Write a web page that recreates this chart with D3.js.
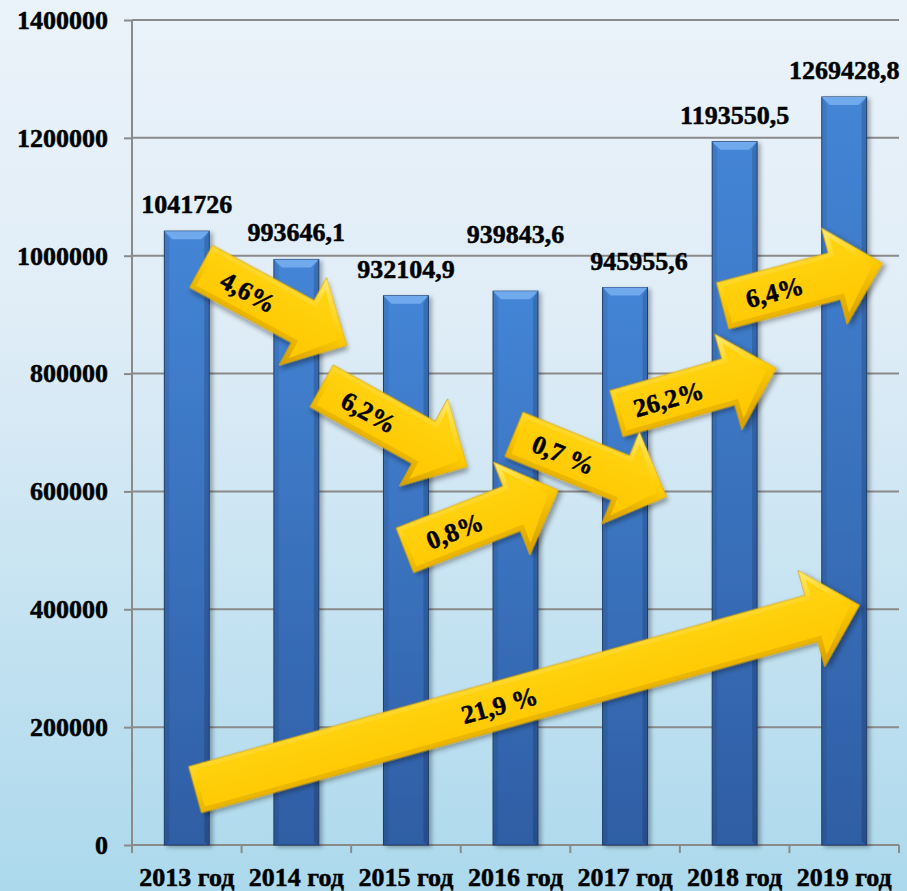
<!DOCTYPE html>
<html>
<head>
<meta charset="utf-8">
<script src="https://cdn.jsdelivr.net/npm/d3@7"></script>
<style>
  html, body { margin: 0; padding: 0; overflow: hidden; }
  svg { display: block; }
  .lbl { stroke: #000; stroke-width: 0.5px; }
</style>
</head>
<body>
<div id="chart"></div>
<script>
// chart values
var years = ["2013 год", "2014 год", "2015 год", "2016 год", "2017 год", "2018 год", "2019 год"];
var values = [1041726, 993646.1, 932104.9, 939843.6, 945955.6, 1193550.5, 1269428.8];
var valueLabels = ["1041726", "993646,1", "932104,9", "939843,6", "945955,6", "1193550,5", "1269428,8"];
var yTicks = [0, 200000, 400000, 600000, 800000, 1000000, 1200000, 1400000];

// growth arrows: label, start and end given as [bar position, value]
var arrowLabels = ["4,6%", "6,2%", "0,8%", "0,7 %", "26,2%", "6,4%", "21,9 %"];
var arrowFrom = [[0.13, 982000], [1.23, 779000], [1.99, 500000], [2.985, 697000], [3.92, 732000], [4.89, 915000], [0.075, 94000]];
var arrowTo   = [[1.46, 848000], [2.56, 642000], [3.39, 602000], [4.38, 591000], [5.38, 809000], [6.35, 987000], [6.14, 407000]];

// layout
var width = 907;
var height = 891;
var margin = {left: 132, right: 8, top: 20, bottom: 46};
var font = "'Liberation Serif', 'Times New Roman', serif";
var shaftW = 48, headW = 100, headL = 50;

// small nudges for value labels that dodge the arrows
var labelNudge = {"2016 год": [0, -30], "2017 год": [14, 0]};

var svg = d3.select("#chart").append("svg")
    .attr("width", width)
    .attr("height", height);

var defs = svg.append("defs");

// background gradient
var bg = defs.append("linearGradient").attr("id", "bg")
    .attr("x1", 0).attr("y1", 0).attr("x2", 0).attr("y2", 1);
bg.append("stop").attr("offset", "0%").attr("stop-color", "#ebf3fa");
bg.append("stop").attr("offset", "35%").attr("stop-color", "#e0edf7");
bg.append("stop").attr("offset", "100%").attr("stop-color", "#acd9ec");

// bar gradient
var barGrad = defs.append("linearGradient").attr("id", "barGrad")
    .attr("x1", 0).attr("y1", 0).attr("x2", 0).attr("y2", 1);
barGrad.append("stop").attr("offset", "0%").attr("stop-color", "#4485d6");
barGrad.append("stop").attr("offset", "100%").attr("stop-color", "#2f5ea4");

// arrow gradients
var arrOuter = defs.append("linearGradient").attr("id", "arrOuter")
    .attr("x1", 0).attr("y1", 0).attr("x2", 0).attr("y2", 1);
arrOuter.append("stop").attr("offset", "0%").attr("stop-color", "#ffea70");
arrOuter.append("stop").attr("offset", "45%").attr("stop-color", "#ffcc00");
arrOuter.append("stop").attr("offset", "100%").attr("stop-color", "#d59e00");

var arrInner = defs.append("linearGradient").attr("id", "arrInner")
    .attr("x1", 0).attr("y1", 0).attr("x2", 0).attr("y2", 1);
arrInner.append("stop").attr("offset", "0%").attr("stop-color", "#ffd412");
arrInner.append("stop").attr("offset", "100%").attr("stop-color", "#ffc700");

// shadows
defs.append("filter").attr("id", "shadow")
    .attr("x", "-20%").attr("y", "-20%").attr("width", "140%").attr("height", "140%")
  .append("feDropShadow")
    .attr("dx", 3).attr("dy", 3).attr("stdDeviation", 2.5)
    .attr("flood-color", "#000").attr("flood-opacity", 0.35);

defs.append("filter").attr("id", "barShadow")
    .attr("x", "-30%").attr("y", "-5%").attr("width", "160%").attr("height", "110%")
  .append("feDropShadow")
    .attr("dx", 3).attr("dy", 2).attr("stdDeviation", 2)
    .attr("flood-color", "#000").attr("flood-opacity", 0.3);

svg.append("rect")
    .attr("width", width)
    .attr("height", height)
    .attr("fill", "url(#bg)");

// scales
var x = d3.scaleBand()
    .domain(years)
    .range([margin.left, width - margin.right])
    .paddingInner(0.59)
    .paddingOuter(0.295);

var y = d3.scaleLinear()
    .domain([0, 1400000])
    .range([height - margin.bottom, margin.top]);

// convert a fractional bar position to a pixel x
function xPos(p) {
    return x(years[0]) + x.bandwidth() / 2 + p * x.step();
}

// gridlines
svg.append("g")
    .selectAll("line")
    .data(yTicks.filter(function(d) { return d > 0; }))
    .enter()
    .append("line")
      .attr("x1", margin.left)
      .attr("x2", width - margin.right)
      .attr("y1", function(d) { return y(d); })
      .attr("y2", function(d) { return y(d); })
      .attr("stroke", "#8a8a8a")
      .attr("stroke-width", 2);

// y axis
var yAxis = svg.append("g")
    .attr("transform", "translate(" + margin.left + ",0)")
    .call(d3.axisLeft(y).tickValues(yTicks).tickSize(8).tickPadding(16).tickFormat(d3.format("d")));
yAxis.select(".domain").remove();
yAxis.selectAll("line").attr("stroke", "#8a8a8a").attr("stroke-width", 2);
yAxis.selectAll("text")
    .attr("class", "lbl")
    .style("font-family", font)
    .style("font-weight", "bold")
    .style("font-size", "26px")
    .attr("fill", "#000");

svg.append("line")
    .attr("x1", margin.left).attr("x2", margin.left)
    .attr("y1", margin.top).attr("y2", y(0) + 8)
    .attr("stroke", "#8a8a8a").attr("stroke-width", 2);

// x axis baseline with ticks between categories
svg.append("line")
    .attr("x1", margin.left).attr("x2", width - margin.right)
    .attr("y1", y(0)).attr("y2", y(0))
    .attr("stroke", "#8a8a8a").attr("stroke-width", 2);

svg.append("g")
    .selectAll("line")
    .data(years)
    .enter()
    .append("line")
      .attr("x1", function(d) { return x(d) - x.step() * x.paddingInner() / 2 + x.step(); })
      .attr("x2", function(d) { return x(d) - x.step() * x.paddingInner() / 2 + x.step(); })
      .attr("y1", y(0))
      .attr("y2", y(0) + 8)
      .attr("stroke", "#8a8a8a")
      .attr("stroke-width", 2);

svg.append("g")
    .selectAll("text")
    .data(years)
    .enter()
    .append("text")
      .attr("class", "lbl")
      .attr("x", function(d) { return x(d) + x.bandwidth() / 2; })
      .attr("y", y(0) + 41)
      .attr("text-anchor", "middle")
      .style("font-family", font)
      .style("font-weight", "bold")
      .style("font-size", "26px")
      .text(function(d) { return d; });

// bars
var bw = x.bandwidth();
var bevel = 8;
var bars = svg.append("g")
    .selectAll("g")
    .data(years)
    .enter()
    .append("g")
      .attr("filter", "url(#barShadow)");

bars.append("rect")
    .attr("x", function(d) { return x(d); })
    .attr("y", function(d, i) { return y(values[i]); })
    .attr("width", bw)
    .attr("height", function(d, i) { return y(0) - y(values[i]); })
    .attr("fill", "url(#barGrad)")
    .attr("stroke", "#1f3c68")
    .attr("stroke-width", 1);

// top bevel
bars.append("polygon")
    .attr("points", function(d, i) {
        var x0 = x(d), y0 = y(values[i]);
        return [[x0, y0], [x0 + bw, y0], [x0 + bw - bevel, y0 + bevel], [x0 + bevel, y0 + bevel]].join(" ");
    })
    .attr("fill", "#6fa9ec");

// side bevels
bars.append("polygon")
    .attr("points", function(d, i) {
        var x0 = x(d), y0 = y(values[i]), y1 = y(0);
        return [[x0 + 0.5, y0], [x0 + 5, y0 + bevel], [x0 + 5, y1 - 3], [x0 + 0.5, y1]].join(" ");
    })
    .attr("fill", "#000")
    .attr("fill-opacity", 0.08);

bars.append("polygon")
    .attr("points", function(d, i) {
        var x0 = x(d) + bw, y0 = y(values[i]), y1 = y(0);
        return [[x0 - 0.5, y0], [x0 - 5, y0 + bevel], [x0 - 5, y1 - 3], [x0 - 0.5, y1]].join(" ");
    })
    .attr("fill", "#000")
    .attr("fill-opacity", 0.16);

// value labels
svg.append("g")
    .selectAll("text")
    .data(years)
    .enter()
    .append("text")
      .attr("class", "lbl")
      .attr("x", function(d) {
          var n = labelNudge[d] || [0, 0];
          return x(d) + bw / 2 + n[0];
      })
      .attr("y", function(d, i) {
          var n = labelNudge[d] || [0, 0];
          return y(values[i]) - 18 + n[1];
      })
      .attr("text-anchor", "middle")
      .style("font-family", font)
      .style("font-weight", "bold")
      .style("font-size", "26px")
      .text(function(d, i) { return valueLabels[i]; });

// arrows, drawn last-to-first so the earlier ones sit on top
function arrowPoints(L, inset) {
    var d = inset;
    var hw = shaftW / 2 - d, HW = headW / 2 - d * 2.2, b = L - headL + d;
    return [[d, -hw], [b, -hw], [b, -HW], [L - d * 2.2, 0], [b, HW], [b, hw], [d, hw]].join(" ");
}

var arrowData = arrowLabels.map(function(label, i) {
    var x1 = xPos(arrowFrom[i][0]), y1 = y(arrowFrom[i][1]);
    var x2 = xPos(arrowTo[i][0]), y2 = y(arrowTo[i][1]);
    return {
        label: label,
        x: x1, y: y1,
        len: Math.sqrt((x2 - x1) * (x2 - x1) + (y2 - y1) * (y2 - y1)),
        angle: Math.atan2(y2 - y1, x2 - x1) * 180 / Math.PI
    };
}).reverse();

var arrows = svg.append("g")
    .selectAll("g")
    .data(arrowData)
    .enter()
    .append("g")
      .attr("transform", function(d) { return "translate(" + d.x + "," + d.y + ") rotate(" + d.angle + ")"; });

arrows.append("polygon")
    .attr("points", function(d) { return arrowPoints(d.len, 0); })
    .attr("fill", "url(#arrOuter)")
    .attr("stroke", "#d9a400")
    .attr("stroke-width", 0.8)
    .attr("filter", "url(#shadow)");

arrows.append("polygon")
    .attr("points", function(d) { return arrowPoints(d.len, 5); })
    .attr("fill", "url(#arrInner)");

arrows.append("text")
    .attr("class", "lbl")
    .attr("x", function(d) { return (d.len - headL) / 2 - 4; })
    .attr("y", 0)
    .attr("dy", "0.35em")
    .attr("text-anchor", "middle")
    .style("font-family", font)
    .style("font-weight", "bold")
    .style("font-size", "26px")
    .text(function(d) { return d.label; });
</script>
</body>
</html>
